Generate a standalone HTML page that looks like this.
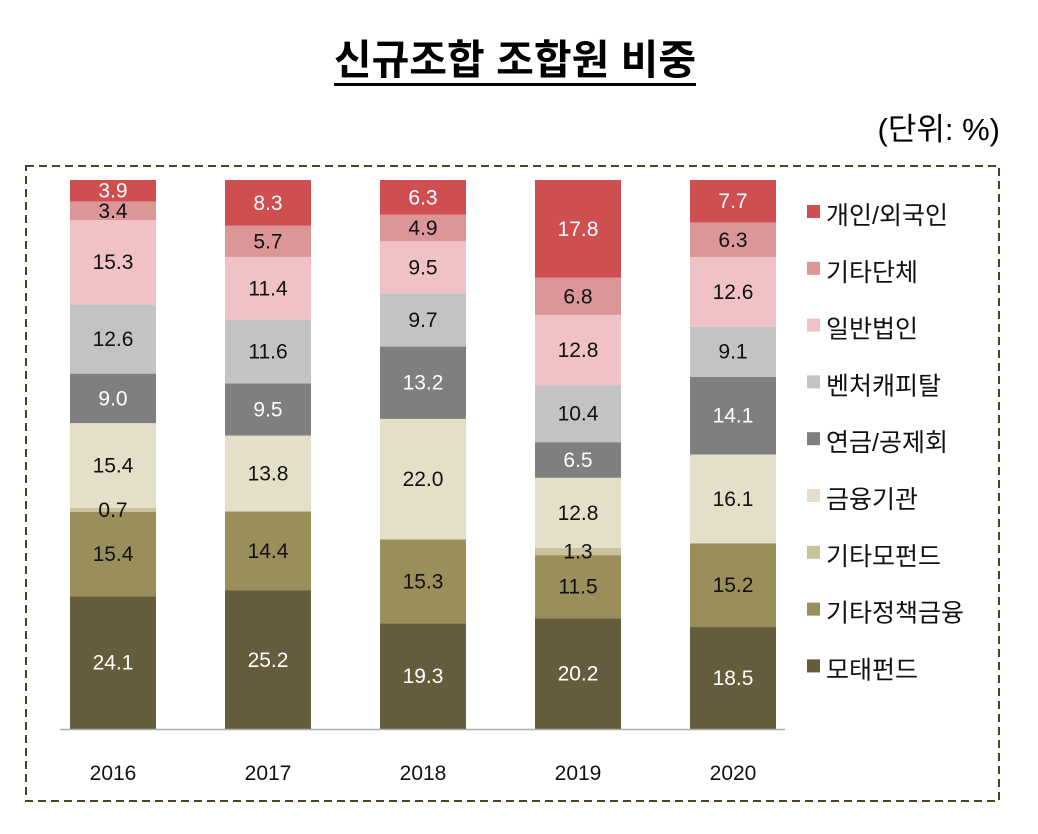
<!DOCTYPE html>
<html><head><meta charset="utf-8"><style>
body{margin:0;background:#fff;width:1038px;height:834px;overflow:hidden;font-family:"Liberation Sans","Noto Sans CJK KR",sans-serif;}
#title{position:absolute;left:0;width:1030px;top:26px;text-align:center;font-size:41px;font-weight:bold;}
#title span{border-bottom:3px solid #000;padding-bottom:0px;}
#unit{position:absolute;right:38px;top:104px;font-size:31px;}
</style></head><body>
<div id="title"><span>신규조합 조합원 비중</span></div>
<div id="unit">(단위: %)</div>
<svg id="chart" width="1038" height="834" style="position:absolute;left:0;top:0">
<rect x="26" y="166" width="973" height="635" fill="none" stroke="#4a4520" stroke-width="2" stroke-dasharray="8,5"/>
</svg>
<script>
const years=["2016","2017","2018","2019","2020"];
const seriesNames=["모태펀드","기타정책금융","기타모펀드","금융기관","연금/공제회","벤처캐피탈","일반법인","기타단체","개인/외국인"];
const s0=[24.1,25.2,19.3,20.2,18.5];
const s1=[15.4,14.4,15.3,11.5,15.2];
const s2=[0.7,0,0,1.3,0];
const s3=[15.4,13.8,22.0,12.8,16.1];
const s4=[9.0,9.5,13.2,6.5,14.1];
const s5=[12.6,11.6,9.7,10.4,9.1];
const s6=[15.3,11.4,9.5,12.8,12.6];
const s7=[3.4,5.7,4.9,6.8,6.3];
const s8=[3.9,8.3,6.3,17.8,7.7];
const series=[s0,s1,s2,s3,s4,s5,s6,s7,s8];
const colors=["#655c3c","#9a8f5a","#c9c29a","#e3dfc9","#7f7f7f","#c3c3c3","#f0c2c6","#dc9697","#cf4e50"];
const textCol=["#fff","#111","#111","#111","#fff","#111","#111","#111","#fff"];
const ns="http://www.w3.org/2000/svg";
const svg=document.getElementById('chart');
const top0=180,base=729,barW=86;
function xc(i){return 113+i*155;}
function mk(t,a){const e=document.createElementNS(ns,t);for(const k in a)e.setAttribute(k,a[k]);svg.appendChild(e);return e;}
const labels=[];
years.forEach((y,i)=>{
  let tot=0;series.forEach(s=>tot+=s[i]);
  const sc=(base-top0)/tot;
  let cur=base;
  series.forEach((s,j)=>{
    const v=s[i];if(!v)return;
    const h=v*sc;cur-=h;
    const r=mk('rect',{x:xc(i)-barW/2,y:cur,width:barW,height:h,fill:colors[j]});
    
    
    labels.push([xc(i),cur+h/2+7,textCol[j],v]);
  });
  const yl=mk('text',{x:xc(i),y:780,'text-anchor':'middle','font-size':21,fill:'#111'});
  yl.textContent=y;
  
  
});
labels.forEach(l=>{
  const t=mk('text',{x:l[0],y:l[1],'text-anchor':'middle','font-size':21,fill:l[2]});
  t.textContent=l[3].toFixed(1);
  
  
});
const ax=mk('line',{x1:60,x2:785,y1:base+0.5,y2:base+0.5,stroke:'#aaa','stroke-width':1.5});


for(let k=0;k<9;k++){
  const j=8-k;const yy=216+k*56.8;
  const sq=mk('rect',{x:807,y:yy-11,width:13,height:13,fill:colors[j]});
  
  
  const t=mk('text',{x:826,y:yy+8,'font-size':25,fill:'#111'});
  t.textContent=seriesNames[j];
  
  
}
</script>
</body></html>
